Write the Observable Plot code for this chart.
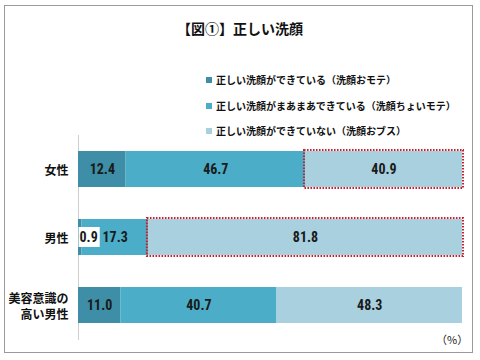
<!DOCTYPE html>
<html><head><meta charset="utf-8">
<script src="https://cdn.jsdelivr.net/npm/d3@7"></script>
<script src="https://cdn.jsdelivr.net/npm/@observablehq/plot@0.6"></script>
<style>
body{margin:0;background:#fff;font-family:"Noto Sans CJK JP",sans-serif;}
#wrap{position:relative;width:480px;height:360px;overflow:hidden;}
#frame{position:absolute;left:4px;top:5px;width:469px;height:348px;border:1.5px solid #9a9a9a;box-sizing:border-box;}
#title{position:absolute;left:0;width:480px;top:18px;text-align:center;font-size:14px;font-weight:bold;color:#111;}
#legend{position:absolute;left:206px;top:67px;font-size:10px;font-weight:bold;color:#111;line-height:25.5px;white-space:nowrap;}
#legend .sw{display:inline-block;width:6px;height:6px;margin-right:4px;vertical-align:middle;position:relative;top:-1px;}
#chart{position:absolute;left:0;top:135px;}
#unit{position:absolute;left:436px;top:331px;font-size:11px;color:#222;}
</style></head>
<body>
<div id="wrap">
<div id="frame"></div>
<div id="title"></div>
<div id="legend"></div>
<div id="chart"></div>
<div id="unit"></div>
</div>
<script>
const titleText = "【図①】正しい洗顔";
const unitText = "（%）";
const groups = ["女性", "男性", "美容意識の高い男性"];
const yLabels = ["女性", "男性", "美容意識の\n高い男性"];
const seriesNames = [
  "正しい洗顔ができている（洗顔おモテ）",
  "正しい洗顔がまあまあできている（洗顔ちょいモテ）",
  "正しい洗顔ができていない（洗顔おブス）"
];
const seriesColors = ["#3d8ea6", "#4badc8", "#a8d0de"];
const good = [12.4, 0.9, 11.0];
const okay = [46.7, 17.3, 40.7];
const bad = [40.9, 81.8, 48.3];
const highlightBad = [true, true, false];

document.getElementById("title").textContent = titleText;
document.getElementById("unit").textContent = unitText;
const leg = document.getElementById("legend");
seriesNames.forEach((n, i) => {
  const row = document.createElement("div");
  row.innerHTML = `<span class="sw" style="background:${seriesColors[i]}"></span>`;
  row.appendChild(document.createTextNode(n));
  leg.appendChild(row);
});

const series = [good, okay, bad];
const rows = [];
groups.forEach((g, gi) => {
  let acc = 0;
  series.forEach((vals, si) => {
    const v = vals[gi];
    rows.push({group: g, series: seriesNames[si], si, value: v, x1: acc, x2: acc + v,
      small: v < 3, highlight: si === 2 && highlightBad[gi]});
    acc += v;
  });
});

const numFont = "'Liberation Sans Narrow','Arial Narrow','Roboto Condensed',sans-serif";
const plot = Plot.plot({
  width: 480,
  height: 225,
  marginLeft: 78,
  marginRight: 18,
  marginTop: 0,
  marginBottom: 20,
  x: {domain: [0, 100], axis: null},
  y: {domain: groups, axis: null, paddingInner: 0.47, paddingOuter: 0.235},
  color: {domain: seriesNames, range: seriesColors},
  marks: [
    Plot.ruleX([0], {stroke: "#cfcfcf"}),
    Plot.barX(rows, {x1: "x1", x2: "x2", y: "group", fill: "series"}),
    Plot.barX(rows.filter(d => d.highlight), {x1: "x1", x2: "x2", y: "group", fill: "none",
      stroke: "#c8202c", strokeWidth: 2, strokeDasharray: "1.6,1.4", inset: -1}),
    Plot.text(rows.filter(d => !d.small), {x: d => (d.x1 + d.x2) / 2, y: "group",
      text: d => d.value.toFixed(1), fontSize: 14, fontWeight: "bold", fill: "#1a1a1a", fontFamily: numFont}),
    Plot.text(rows.filter(d => d.small), {x: "x1", y: "group", text: d => d.value.toFixed(1),
      textAnchor: "start", dx: 1, fontSize: 14, fontWeight: "bold", fill: "#1a1a1a", fontFamily: numFont,
      className: "small-label"}),
    Plot.text(groups, {y: d => d, text: (d, i) => yLabels[i], frameAnchor: "left",
      textAnchor: "end", dx: -10, fontSize: 12, fontWeight: "bold", fill: "#111",
      lineHeight: 1.35, fontFamily: "'Noto Sans CJK JP',sans-serif"})
  ]
});
document.getElementById("chart").appendChild(plot);

// white box behind small labels
d3.select(plot).selectAll("g.small-label text").each(function() {
  const b = this.getBBox();
  const p = this.parentNode;
  const t = this.getAttribute("transform");
  const r = document.createElementNS("http://www.w3.org/2000/svg", "rect");
  r.setAttribute("x", b.x - 1);
  r.setAttribute("y", b.y - 2);
  r.setAttribute("width", b.width + 3);
  r.setAttribute("height", b.height + 4);
  r.setAttribute("fill", "#fff");
  if (t) r.setAttribute("transform", t);
  p.insertBefore(r, this);
});
</script>
</body></html>
